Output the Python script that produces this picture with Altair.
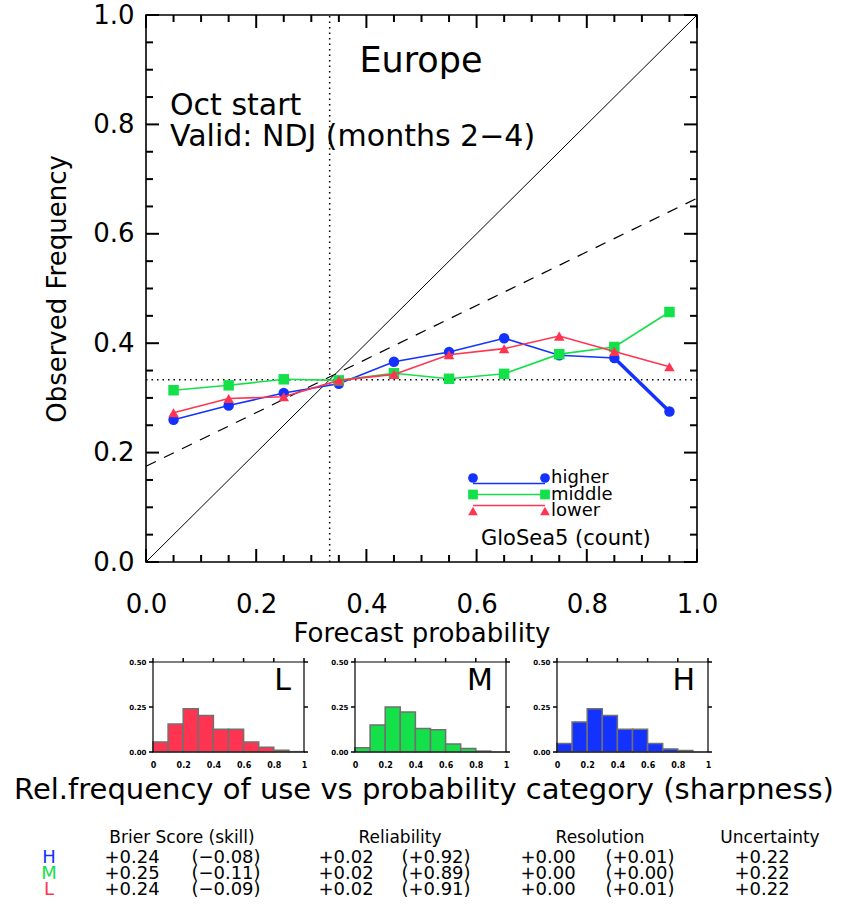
import altair as alt
import pandas as pd

# ---------------- data ----------------
prob_centres = [0.05, 0.15, 0.25, 0.35, 0.45, 0.55, 0.65, 0.75, 0.85, 0.95]
obs_higher = [0.260, 0.286, 0.309, 0.326, 0.366, 0.384, 0.409, 0.378, 0.373, 0.275]
obs_middle = [0.314, 0.323, 0.334, 0.332, 0.345, 0.335, 0.344, 0.380, 0.393, 0.457]
obs_lower = [0.273, 0.299, 0.302, 0.332, 0.343, 0.379, 0.390, 0.413, 0.385, 0.357]

fit_x = [0.0, 1.0]
fit_y = [0.175, 0.665]
climatology = 1.0 / 3.0

bin_lo = [0.0, 0.1, 0.2, 0.3, 0.4, 0.5, 0.6, 0.7, 0.8, 0.9]
bin_hi = [0.1, 0.2, 0.3, 0.4, 0.5, 0.6, 0.7, 0.8, 0.9, 1.0]
hist_lower = [0.055, 0.155, 0.240, 0.203, 0.127, 0.127, 0.055, 0.027, 0.010, 0.002]
hist_middle = [0.023, 0.150, 0.250, 0.222, 0.130, 0.123, 0.045, 0.020, 0.005, 0.0]
hist_higher = [0.047, 0.167, 0.240, 0.203, 0.126, 0.126, 0.047, 0.017, 0.009, 0.0]

series_names = ["higher", "middle", "lower"]
series_letters = ["H", "M", "L"]
series_colors = ["#1432FF", "#14E04A", "#FF3450"]
series_shapes = ["circle", "square", "triangle-up"]

table_headers = ["Brier Score (skill)", "Reliability", "Resolution", "Uncertainty"]
brier = ["+0.24", "+0.25", "+0.24"]
brier_skill = ["(\u22120.08)", "(\u22120.11)", "(\u22120.09)"]
reliab = ["+0.02", "+0.02", "+0.02"]
reliab_skill = ["(+0.92)", "(+0.89)", "(+0.91)"]
resol = ["+0.00", "+0.00", "+0.00"]
resol_skill = ["(+0.01)", "(+0.00)", "(+0.01)"]
uncert = ["+0.22", "+0.22", "+0.22"]

major_ticks = [0.0, 0.2, 0.4, 0.6, 0.8, 1.0]
minor_ticks = [0.05, 0.1, 0.15, 0.25, 0.3, 0.35, 0.45, 0.5, 0.55, 0.65, 0.7, 0.75, 0.85, 0.9, 0.95]
hist_y_ticks = [0.0, 0.25, 0.5]

# ---------------- layout ----------------
W, H = 844, 910
FONT = "DejaVu Sans"
MX0, MX1, MY0, MY1 = 146, 697, 562, 15
HIST_X0 = [153, 355, 557]
HIST_W = 151
HY0, HY1 = 752, 662

mxs = alt.Scale(domain=[0, 1], range=[MX0, MX1], nice=False, zero=False)
mys = alt.Scale(domain=[0, 1], range=[MY0, MY1], nice=False, zero=False)

layers = []


def label_axis(orient, offset, values, fmt, size, pad=4, weight="normal", title="", tpad=4):
    return alt.Axis(orient=orient, offset=offset, values=values, format=fmt,
                    tickSize=0, ticks=False, domain=False, grid=False,
                    labelFont=FONT, labelFontSize=size, labelColor="black", labelPadding=pad,
                    labelFontWeight=weight, labelFlush=False, labelOverlap=False,
                    title=title, titleFont=FONT, titleFontSize=26, titleFontWeight="normal",
                    titleColor="black", titlePadding=tpad)


def tick_rules(vals, side, length, xs, ys, xdom, ydom, pxw, pxh, outward=False, width=2):
    """Short tick rules along one side of a frame, drawn through the panel's scales.
    The tick length in pixels is converted to the panel's data units."""
    n = len(vals)
    d = -1.0 if outward else 1.0
    (xa, xb), (ya, yb) = xdom, ydom
    ly = d * length * (yb - ya) / pxh
    lx = d * length * (xb - xa) / pxw
    if side in ("bottom", "top"):
        a = float(ya if side == "bottom" else yb)
        b = a + ly if side == "bottom" else a - ly
        df = pd.DataFrame({"tv": vals, "ta": [a] * n, "tb": [b] * n})
        return alt.Chart(df).mark_rule(color="#000000", strokeWidth=width, opacity=1).encode(
            x=alt.X("tv:Q", scale=xs, axis=None),
            y=alt.Y("ta:Q", scale=ys, axis=None), y2="tb:Q")
    a = float(xa if side == "left" else xb)
    b = a + lx if side == "left" else a - lx
    df = pd.DataFrame({"tv": vals, "ta": [a] * n, "tb": [b] * n})
    return alt.Chart(df).mark_rule(color="#000000", strokeWidth=width, opacity=1).encode(
        y=alt.Y("tv:Q", scale=ys, axis=None),
        x=alt.X("ta:Q", scale=xs, axis=None), x2="tb:Q")


frame_df = pd.DataFrame({"x0": [0.0], "x1": [1.0], "y0": [0.0], "y1": [1.0]})

# reference lines
diag_df = pd.DataFrame({"x": [0.0, 1.0], "y": [0.0, 1.0]})
layers.append(alt.Chart(diag_df).mark_line(color="black", strokeWidth=1).encode(
    x=alt.X("x:Q", scale=mxs, axis=None), y=alt.Y("y:Q", scale=mys, axis=None)))

fit_df = pd.DataFrame({"x": fit_x, "y": fit_y})
layers.append(alt.Chart(fit_df).mark_line(color="black", strokeWidth=1.3, strokeDash=[11, 9]).encode(
    x=alt.X("x:Q", scale=mxs, axis=None), y=alt.Y("y:Q", scale=mys, axis=None)))

clim_df = pd.DataFrame({"c": [climatology], "lo": [0.0], "hi": [1.0]})
layers.append(alt.Chart(clim_df).mark_rule(color="black", strokeWidth=1.5, strokeDash=[1.5, 4]).encode(
    x=alt.X("lo:Q", scale=mxs, axis=None), x2="hi:Q", y=alt.Y("c:Q", scale=mys, axis=None)))
layers.append(alt.Chart(clim_df).mark_rule(color="black", strokeWidth=1.5, strokeDash=[1.5, 4]).encode(
    y=alt.Y("lo:Q", scale=mys, axis=None), y2="hi:Q", x=alt.X("c:Q", scale=mxs, axis=None)))

# main frame + labelled axes
layers.append(
    alt.Chart(frame_df).mark_rect(fillOpacity=0, stroke="black", strokeWidth=1.6).encode(
        x=alt.X("x0:Q", scale=mxs, axis=label_axis("bottom", MY0 - H, major_ticks, ".1f", 26,
                                                    pad=29, title="Forecast probability", tpad=3)),
        x2="x1:Q",
        y=alt.Y("y0:Q", scale=mys, axis=label_axis("left", -MX0, major_ticks, ".1f", 26,
                                                    pad=12, title="Observed Frequency", tpad=22)),
        y2="y1:Q",
    )
)

# inward ticks of the main frame (major and minor, all four sides)
MPW, MPH = MX1 - MX0, MY0 - MY1
for side in ("bottom", "top", "left", "right"):
    layers.append(tick_rules(minor_ticks, side, 7, mxs, mys, (0, 1), (0, 1), MPW, MPH))
    layers.append(tick_rules(major_ticks, side, 13, mxs, mys, (0, 1), (0, 1), MPW, MPH))

# reliability curves
obs = {"higher": obs_higher, "middle": obs_middle, "lower": obs_lower}
for name, col, shp in zip(series_names, series_colors, series_shapes):
    d = pd.DataFrame({"p": prob_centres, "o": obs[name]})
    layers.append(alt.Chart(d).mark_line(color=col, strokeWidth=1.6).encode(
        x=alt.X("p:Q", scale=mxs, axis=None), y=alt.Y("o:Q", scale=mys, axis=None)))
    if name == "higher":
        d2 = pd.DataFrame({"p": prob_centres[-2:], "o": obs_higher[-2:]})
        layers.append(alt.Chart(d2).mark_line(color=col, strokeWidth=3.5).encode(
            x=alt.X("p:Q", scale=mxs, axis=None), y=alt.Y("o:Q", scale=mys, axis=None)))
    layers.append(alt.Chart(d).mark_point(filled=True, color=col, shape=shp, size=110, opacity=1).encode(
        x=alt.X("p:Q", scale=mxs, axis=None), y=alt.Y("o:Q", scale=mys, axis=None)))

# manual legend
leg_df = pd.DataFrame({"s": series_names})
leg_y = alt.Y("s:N", scale=alt.Scale(domain=series_names, range=[478, 511], padding=0), axis=None)
leg_col = alt.Color("s:N", scale=alt.Scale(domain=series_names, range=series_colors), legend=None)
leg_shape = alt.Shape("s:N", scale=alt.Scale(domain=series_names, range=series_shapes), legend=None)
layers.append(alt.Chart(leg_df).mark_rule(strokeWidth=1.6).encode(
    x=alt.value(473), x2=alt.value(545), y=leg_y, color=leg_col))
for xp in (473, 545):
    layers.append(alt.Chart(leg_df).mark_point(filled=True, size=95, opacity=1).encode(
        x=alt.value(xp), y=leg_y, color=leg_col, shape=leg_shape))
layers.append(alt.Chart(leg_df).mark_text(align="left", baseline="middle", font=FONT,
                                          fontSize=18, color="black").encode(
    x=alt.value(551), y=leg_y, text="s:N"))


# texts
def label(txt, x, y, size, align="left", color="black", baseline="alphabetic"):
    return alt.Chart(pd.DataFrame({"t": [txt]})).mark_text(
        align=align, baseline=baseline, font=FONT, fontSize=size, color=color).encode(
        x=alt.value(x), y=alt.value(y), text="t:N")


layers.append(label("Europe", 421, 72, 35, align="center"))
layers.append(label("Oct start", 170, 115, 30))
layers.append(label("Valid: NDJ (months 2\u22124)", 170, 146, 30))
layers.append(label("GloSea5 (count)", 481, 545, 21))

# ---------------- histograms ----------------
hists = [hist_lower, hist_middle, hist_higher]
hist_letters = ["L", "M", "H"]
hist_colors = [series_colors[2], series_colors[1], series_colors[0]]
hy = alt.Scale(domain=[0, 0.5], range=[HY0, HY1], nice=False, zero=False)
hframe = pd.DataFrame({"x0": [0.0], "x1": [1.0], "y0": [0.0], "y1": [0.5]})
HPH = HY0 - HY1
for x0, vals, letter, col in zip(HIST_X0, hists, hist_letters, hist_colors):
    hx = alt.Scale(domain=[0, 1], range=[x0, x0 + HIST_W], nice=False, zero=False)
    hd = pd.DataFrame({"lo": bin_lo, "hi": bin_hi, "f": vals})
    layers.append(alt.Chart(hd).mark_rect(color=col, stroke="#707070", strokeWidth=1.5).encode(
        x=alt.X("lo:Q", scale=hx, axis=None), x2="hi:Q",
        y=alt.Y("f:Q", scale=hy, axis=None), y2=alt.datum(0)))
    layers.append(alt.Chart(hframe).mark_rect(fillOpacity=0, stroke="black", strokeWidth=1.2).encode(
        x=alt.X("x0:Q", scale=hx, axis=label_axis("bottom", HY0 - H, major_ticks, "~g", 8,
                                                   pad=9, weight="bold")),
        x2="x1:Q",
        y=alt.Y("y0:Q", scale=hy, axis=label_axis("left", -x0, hist_y_ticks, ".2f", 7,
                                                   pad=7, weight="bold")),
        y2="y1:Q"))
    layers.append(tick_rules(major_ticks, "top", 4, hx, hy, (0, 1), (0, 0.5), HIST_W, HPH,
                             outward=True, width=1.5))
    layers.append(tick_rules(hist_y_ticks, "left", 4, hx, hy, (0, 1), (0, 0.5), HIST_W, HPH,
                             outward=True, width=1.5))
    layers.append(tick_rules(hist_y_ticks, "right", 4, hx, hy, (0, 1), (0, 0.5), HIST_W, HPH,
                             outward=True, width=1.5))
    layers.append(label(letter, x0 + HIST_W - 13, 690, 30, align="right"))

layers.append(label("Rel.frequency of use vs probability category (sharpness)", 424, 799, 29, align="center"))

# ---------------- score table ----------------
head_x = [182, 400, 600, 770]
for txt, xp in zip(table_headers, head_x):
    layers.append(label(txt, xp, 843, 17, align="center"))

tab = pd.DataFrame({"r": series_letters, "b": brier, "bs": brier_skill, "rl": reliab,
                    "rls": reliab_skill, "rs": resol, "rss": resol_skill, "u": uncert})
row_y = alt.Y("r:N", scale=alt.Scale(domain=series_letters, range=[858, 890], padding=0), axis=None)
layers.append(alt.Chart(tab).mark_text(align="center", baseline="middle", font=FONT, fontSize=18).encode(
    x=alt.value(49), y=row_y, text="r:N",
    color=alt.Color("r:N", scale=alt.Scale(domain=series_letters, range=series_colors), legend=None)))
for field, xp in [("b", 132), ("bs", 226), ("rl", 346), ("rls", 436), ("rs", 548), ("rss", 640), ("u", 762)]:
    layers.append(alt.Chart(tab).mark_text(align="center", baseline="middle", font=FONT,
                                           fontSize=18, color="black").encode(
        x=alt.value(xp), y=row_y, text=f"{field}:N"))

chart = alt.layer(*layers).resolve_scale(
    x="independent", y="independent", color="independent", shape="independent"
).resolve_axis(x="independent", y="independent").properties(
    width=W, height=H, padding=0, autosize=alt.AutoSizeParams(type="none"),
    background="white"
).configure_view(strokeWidth=0)

chart.save("out.html", embed_options={"renderer": "svg", "actions": False})
